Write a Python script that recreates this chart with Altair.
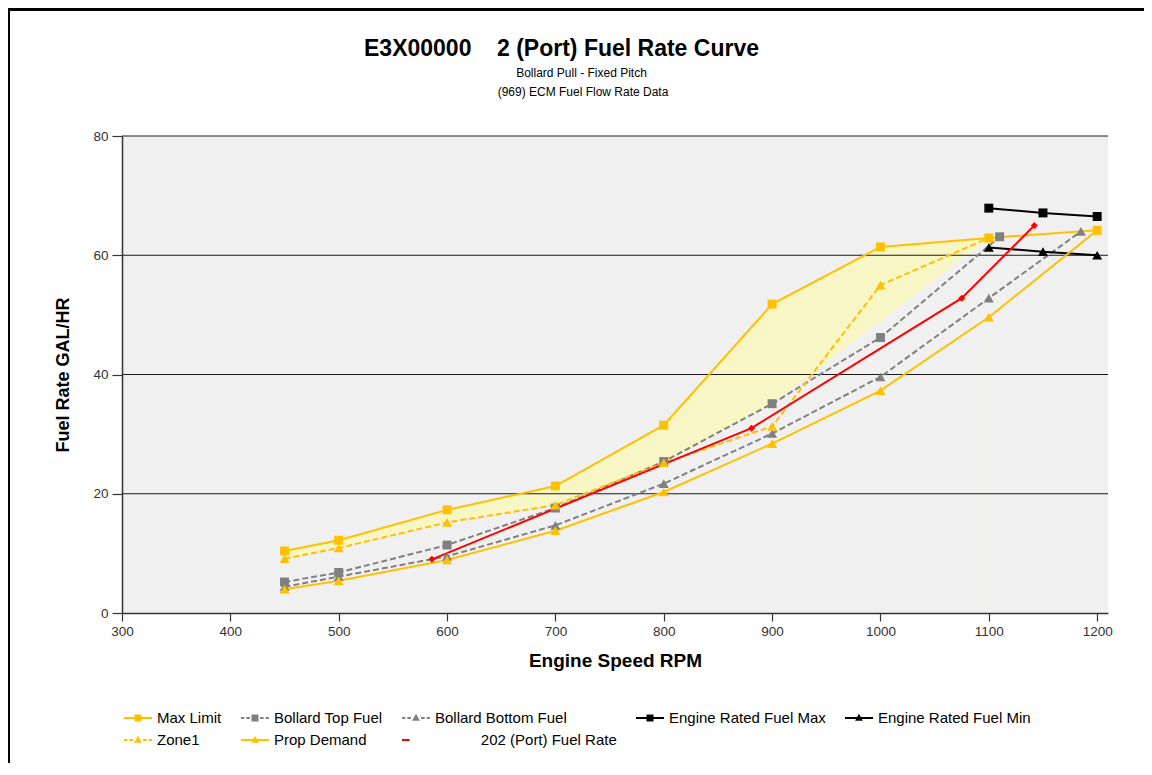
import altair as alt
import pandas as pd

# ---------------- data ----------------
max_limit_rpm = [450, 500, 600, 700, 800, 900, 1000, 1100, 1200]
max_limit = [10.4, 12.2, 17.3, 21.3, 31.5, 51.8, 61.4, 62.9, 64.2]

zone1_rpm = [450, 500, 600, 700, 800, 900, 1000, 1100]
zone1 = [9.1, 10.9, 15.2, 18.1, 25.2, 31.3, 55.0, 62.9]

bollard_top_rpm = [450, 500, 600, 700, 800, 900, 1000, 1110]
bollard_top = [5.2, 6.8, 11.4, 17.6, 25.4, 35.1, 46.2, 63.1]

bollard_bottom_rpm = [450, 500, 600, 700, 800, 900, 1000, 1100, 1185]
bollard_bottom = [4.4, 6.1, 9.5, 14.7, 21.7, 30.1, 39.6, 52.8, 64.0]

prop_demand_rpm = [450, 500, 600, 700, 800, 900, 1000, 1100, 1200]
prop_demand = [4.0, 5.4, 8.9, 13.8, 20.3, 28.4, 37.3, 49.6, 64.2]

rated_max_rpm = [1100, 1150, 1200]
rated_max = [67.9, 67.1, 66.5]

rated_min_rpm = [1100, 1150, 1200]
rated_min = [61.3, 60.6, 60.0]

port_rate_rpm = [586, 881, 1075, 1142]
port_rate = [9.0, 31.0, 52.8, 65.0]

# shaded zone: upper edge = Max Limit up to 1100 rpm, lower edge below
zone_upper_rpm = max_limit_rpm[:-1]
zone_upper = max_limit[:-1]
zone_lower_rpm = [450, 500, 600, 700, 800, 900, 1100]
zone_lower = [9.1, 10.9, 15.2, 18.1, 25.2, 35.0, 62.9]

x_ticks = [300, 400, 500, 600, 700, 800, 900, 1000, 1100, 1200]
y_ticks = [0, 20, 40, 60, 80]
grid_values = [20, 40, 60, 80]

title_id = "E3X00000"
title_main = "2 (Port) Fuel Rate Curve"
subtitle_1 = "Bollard Pull - Fixed Pitch"
subtitle_2 = "(969) ECM Fuel Flow Rate Data"

# ---------------- styling ----------------
FONT = "Liberation Sans"
GOLD = "#FFC000"
GRAY = "#808080"
RED = "#FF0000"
BLACK = "#000000"
ZONE = "#F8F6C4"
BG = "#F0F0F0"
DASH = [6, 3]

SQ = "M-0.25,-0.25H0.25V0.25H-0.25Z"
TRI = "M0,-0.3L0.28,0.2H-0.28Z"
SOLID = "M-1,-0.07H1V0.07H-1Z"
DASHED = ("M-1,-0.07H-0.76V0.07H-1Z M-0.62,-0.07H-0.36V0.07H-0.62Z "
          "M0.36,-0.07H0.62V0.07H0.36Z M0.76,-0.07H1V0.07H0.76Z")
SHORT = "M-1,-0.07H-0.45V0.07H-1Z"

# the reference shows this legend label shifted right of its symbol
PAD = "\u200b" + "\u00a0" * 11

# name, rpm, values, color, dashed, marker shape, marker size, legend symbol
series = [
    ("Max Limit", max_limit_rpm, max_limit, GOLD, False, "square", 80, SOLID + " " + SQ),
    ("Bollard Top Fuel", bollard_top_rpm, bollard_top, GRAY, True, "square", 80, DASHED + " " + SQ),
    ("Bollard Bottom Fuel", bollard_bottom_rpm, bollard_bottom, GRAY, True, "triangle-up", 100, DASHED + " " + TRI),
    ("Engine Rated Fuel Max", rated_max_rpm, rated_max, BLACK, False, "square", 80, SOLID + " " + SQ),
    ("Engine Rated Fuel Min", rated_min_rpm, rated_min, BLACK, False, "triangle-up", 100, SOLID + " " + TRI),
    ("Zone1", zone1_rpm, zone1, GOLD, True, "triangle-up", 100, DASHED + " " + TRI),
    ("Prop Demand", prop_demand_rpm, prop_demand, GOLD, False, "triangle-up", 100, SOLID + " " + TRI),
    (PAD + "202 (Port) Fuel Rate", port_rate_rpm, port_rate, RED, False, "diamond", 50, SHORT),
]


def df(rpm, vals):
    return pd.DataFrame({"rpm": rpm, "rate": vals})


x_enc = alt.X(
    "rpm:Q",
    scale=alt.Scale(domain=[300, 1210], nice=False, zero=False),
    axis=alt.Axis(values=x_ticks, title="Engine Speed RPM", grid=False, format="d", zindex=2),
)
y_enc = alt.Y(
    "rate:Q",
    scale=alt.Scale(domain=[0, 80], nice=False),
    axis=alt.Axis(values=y_ticks, title="Fuel Rate GAL/HR", grid=False, format="d", zindex=2),
)

layers = []
# shaded zone (upper area, then background-coloured area below the lower edge)
layers.append(alt.Chart(df(zone_upper_rpm, zone_upper)).mark_area(color=ZONE, opacity=1)
              .encode(x=x_enc, y=y_enc))
layers.append(alt.Chart(df(zone_lower_rpm, zone_lower)).mark_area(color=BG, opacity=1)
              .encode(x=x_enc, y=y_enc))
# horizontal grid lines
layers.append(alt.Chart(pd.DataFrame({"rate": grid_values})).mark_rule(color="#1a1a1a", strokeWidth=1)
              .encode(y=y_enc))

for name, rpm, vals, color, dashed, shape, size, _ in series:
    line_kw = dict(color=color, strokeWidth=2)
    if dashed:
        line_kw["strokeDash"] = DASH
    layers.append(alt.Chart(df(rpm, vals)).mark_line(**line_kw).encode(x=x_enc, y=y_enc))
for name, rpm, vals, color, dashed, shape, size, _ in series:
    layers.append(alt.Chart(df(rpm, vals)).mark_point(filled=True, shape=shape, size=size, color=color,
                                                      opacity=1, strokeWidth=0)
                  .encode(x=x_enc, y=y_enc))

# legend carrier layer (invisible points, one per series)
names = [s[0] for s in series]
legend_df = pd.DataFrame({
    "series": names,
    "rpm": [s[1][0] for s in series],
    "rate": [s[2][0] for s in series],
})
legend = alt.Legend(
    orient="none", legendX=2, legendY=568, direction="horizontal", columns=5,
    title=None, labelFont=FONT, labelFontSize=15, labelColor="black",
    symbolSize=784, symbolStrokeWidth=0, symbolOpacity=1, labelOffset=5,
    columnPadding=19, rowPadding=0, labelLimit=400,
)
layers.append(
    alt.Chart(legend_df).mark_point(filled=True, opacity=0).encode(
        x=x_enc, y=y_enc,
        color=alt.Color("series:N", scale=alt.Scale(domain=names, range=[s[3] for s in series]),
                        legend=legend),
        shape=alt.Shape("series:N", scale=alt.Scale(domain=names, range=[s[7] for s in series]),
                        legend=legend),
    )
)

# chart heading (text marks placed above the plot area)
one = pd.DataFrame({"k": [0]})
layers.append(alt.Chart(one).mark_text(font=FONT, fontSize=23, fontWeight="bold", align="left",
                                       baseline="alphabetic", color="black")
              .encode(x=alt.value(242), y=alt.value(-80), text=alt.value(title_id)))
layers.append(alt.Chart(one).mark_text(font=FONT, fontSize=23, fontWeight="bold", align="left",
                                       baseline="alphabetic", color="black")
              .encode(x=alt.value(375), y=alt.value(-80), text=alt.value(title_main)))
layers.append(alt.Chart(one).mark_text(font=FONT, fontSize=12, align="center",
                                       baseline="alphabetic", color="black")
              .encode(x=alt.value(459.5), y=alt.value(-59.5), text=alt.value(subtitle_1)))
layers.append(alt.Chart(one).mark_text(font=FONT, fontSize=12, align="center",
                                       baseline="alphabetic", color="black")
              .encode(x=alt.value(461), y=alt.value(-40), text=alt.value(subtitle_2)))

# page frame of the screenshot
layers.append(alt.Chart(one).mark_rule(color="black", strokeWidth=3)
              .encode(x=alt.value(-113.5), y=alt.value(-130), y2=alt.value(640)))
layers.append(alt.Chart(one).mark_rule(color="black", strokeWidth=3)
              .encode(x=alt.value(-116), x2=alt.value(1040), y=alt.value(-126.5)))

chart = (
    alt.layer(*layers)
    .properties(width=986, height=477, background="white",
                autosize=alt.AutoSizeParams(type="none"),
                padding={"left": 114, "top": 128, "right": 36, "bottom": 150})
    .configure_view(stroke=None, fill=BG)
    .configure_axis(
        labelFont=FONT, labelFontSize=13.5, labelColor="#333333", labelFlush=False,
        titleFont=FONT, titleFontWeight="bold", titleColor="black",
        domainColor="#333333", tickColor="#333333", domainWidth=1.5, tickWidth=1.2,
    )
    .configure_axisX(tickSize=8, labelPadding=3, titleFontSize=19, titlePadding=14)
    .configure_axisY(tickSize=10, labelPadding=4, titleFontSize=18, titlePadding=20)
)

chart.save("out.html", embed_options={"renderer": "svg", "actions": False})
